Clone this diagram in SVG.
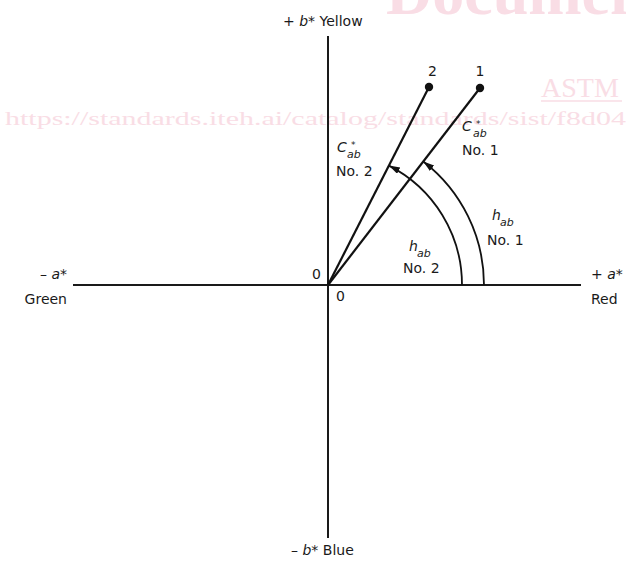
<svg xmlns="http://www.w3.org/2000/svg" width="626" height="562" viewBox="0 0 626 562">
  <style>
    .wm { font-family: "Liberation Serif", "Times New Roman", serif; fill: #f9dde5; }
    .t { font-family: "DejaVu Sans", Verdana, sans-serif; font-size: 14px; fill: #1a1a1a; }
    .i { font-style: italic; }
    .sub { font-family: "DejaVu Sans", Verdana, sans-serif; font-size: 11px; font-style: italic; fill: #1a1a1a; }
    .star { font-family: "DejaVu Sans", Verdana, sans-serif; font-size: 9px; fill: #1a1a1a; }
    .axis { stroke: #1a1a1a; stroke-width: 2; fill: none; }
    .ray { stroke: #111; stroke-width: 2.2; fill: none; }
    .arc { stroke: #111; stroke-width: 1.8; fill: none; }
  </style>
  <defs>
    <marker id="ah" markerUnits="userSpaceOnUse" markerWidth="12" markerHeight="8" refX="11" refY="3.5" orient="auto">
      <path d="M0,0 L11,3.5 L0,7 z" fill="#111"/>
    </marker>
  </defs>
  <rect width="626" height="562" fill="#fff"/>

  <g id="watermark">
    <text class="wm" x="386" y="14" font-size="64" font-weight="bold">Document</text>
    <text class="wm" x="541" y="97" font-size="28">ASTM</text>
    <line x1="541" y1="101" x2="622" y2="101" stroke="#f9dde5" stroke-width="1.5"/>
    <text class="wm" x="5" y="125" font-size="19" textLength="621" lengthAdjust="spacingAndGlyphs">https://standards.iteh.ai/catalog/standards/sist/f8d04</text>
  </g>

  <g id="connectors">
    <line class="axis" x1="328" y1="36" x2="328" y2="538"/>
    <line class="axis" x1="73" y1="285" x2="581" y2="285"/>
    <line class="ray" x1="328" y1="285" x2="480" y2="88"/>
    <line class="ray" x1="328" y1="285" x2="429" y2="87"/>
    <path class="arc" d="M 484 285 A 156 156 0 0 0 423.3 161.5" marker-end="url(#ah)"/>
    <path class="arc" d="M 462 285 A 134 134 0 0 0 388.9 165.6" marker-end="url(#ah)"/>
  </g>

  <g id="point1">
    <circle cx="480" cy="88" r="4.2" fill="#111"/>
    <text class="t" x="480" y="76" text-anchor="middle">1</text>
  </g>
  <g id="point2">
    <circle cx="429" cy="87" r="4.2" fill="#111"/>
    <text class="t" x="432.5" y="76" text-anchor="middle">2</text>
  </g>

  <g id="label-yellow">
    <text class="t" x="283" y="26">+ <tspan class="i">b</tspan>* Yellow</text>
  </g>
  <g id="label-blue">
    <text class="t" x="291" y="555">– <tspan class="i">b</tspan>* Blue</text>
  </g>
  <g id="label-green">
    <text class="t" x="67" y="279" text-anchor="end">– <tspan class="i">a</tspan>*</text>
    <text class="t" x="67" y="304" text-anchor="end">Green</text>
  </g>
  <g id="label-red">
    <text class="t" x="591" y="279">+ <tspan class="i">a</tspan>*</text>
    <text class="t" x="591" y="304">Red</text>
  </g>
  <g id="origin">
    <text class="t" x="312" y="279">0</text>
    <text class="t" x="336" y="301">0</text>
  </g>

  <g id="chroma1">
    <text class="t i" x="462" y="131">C</text>
    <text class="star" x="476" y="127">*</text>
    <text class="sub" x="473" y="137">ab</text>
    <text class="t" x="462" y="155">No. 1</text>
  </g>
  <g id="chroma2">
    <text class="t i" x="337" y="152">C</text>
    <text class="star" x="351" y="148">*</text>
    <text class="sub" x="347" y="158">ab</text>
    <text class="t" x="336" y="176">No. 2</text>
  </g>
  <g id="hue1">
    <text class="t i" x="492" y="220">h</text>
    <text class="sub" x="500" y="226">ab</text>
    <text class="t" x="487" y="245">No. 1</text>
  </g>
  <g id="hue2">
    <text class="t i" x="409" y="251">h</text>
    <text class="sub" x="417" y="257">ab</text>
    <text class="t" x="403" y="273">No. 2</text>
  </g>
</svg>
